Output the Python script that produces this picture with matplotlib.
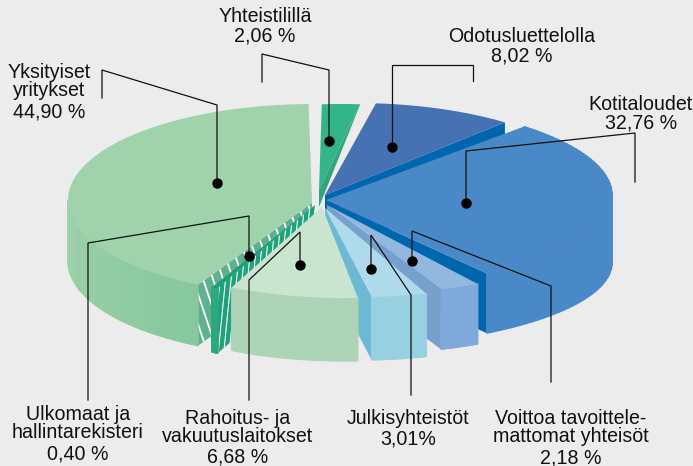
"""
Exploded 3D style pie of shareholder groups, drawn with polygons on a pixel sized axes.
"""
import numpy as np
import matplotlib
matplotlib.use("Agg")
import matplotlib.pyplot as plt
from matplotlib.colors import to_rgb
from matplotlib.patches import Polygon

plt.rcParams['font.family'] = ['Liberation Sans', 'DejaVu Sans']

names = ["Yhteistilillä", "Odotusluettelolla", "Kotitaloudet", "Voittoa tavoittelemattomat yhteisöt",
         "Julkisyhteistöt", "Rahoitus- ja vakuutuslaitokset", "Ulkomaat ja hallintarekisteri", "Yksityiset yritykset"]
values = [2.06, 8.02, 32.76, 2.18, 3.01, 6.68, 0.40, 44.90]
value_labels = ["2,06 %", "8,02 %", "32,76 %", "2,18 %", "3,01%", "6,68 %", "0,40 %", "44,90 %"]

BG = "#ececec"

# per slice layout: apex, ellipse centre, radii, start angle (clockwise from top), stretch, depth
# hatch is (step, sideways run over the wall, line width)
layout = {
    "Yhteistilillä": dict(apex=(319, 190), c=(341, 200), r=(250, 96), t0=-4.4, st=1.19, depth=0,
                          top="#34b588", wall="#33a57e", cut="end"),
    "Odotusluettelolla": dict(apex=(325, 195), c=(355, 200), r=(250, 97), t0=4.8, st=1.11, depth=60,
                              top="#4671b3", wall="#0066ad", cut="end"),
    "Kotitaloudet": dict(apex=(326, 200), c=(325, 195), r=(287, 95), t0=43.9, st=0.863, depth=68, r_bottom=85,
                         top="#4a89c7", wall="#0066ad", front=("#4a89c7", "#4a89c7"), cut="end"),
    "Yksityiset yritykset": dict(apex=(312, 203), c=(313, 200), r=(245, 96), t0=208, st=0.934, depth=61,
                                 top="#a0d2ab", wall="#5fb08f", front=("#86c89e", "#a0d2ab"), cut="start",
                                 hatch=(10, 60, 1.3)),
    "Ulkomaat ja hallintarekisteri": dict(apex=(315, 205), c=(315, 200), r=(245, 96), t0=203.4, st=1.0, depth=65,
                                          top="#1f9f78", wall="#1da27a", front=("#2ca77e", "#2ca77e"), cut="start",
                                          hatch=(5.5, -18, 0.8)),
}
layout.update({
    "Rahoitus- ja vakuutuslaitokset": dict(apex=(322, 207), c=(345, 205), r=(245, 93), t0=177, st=1.27, depth=63,
                                           top="#c9e5cf", wall="#add4b6", front=("#add4b6", "#add4b6"), cut=None),
    "Julkisyhteistöt": dict(apex=(325, 208), c=(360, 205), r=(245, 92), t0=164.3, st=1.2, depth=63,
                            top="#aedaec", wall="#6db9d3", front=("#97d1e1", "#97d1e1"), cut="end"),
    "Voittoa tavoittelemattomat yhteisöt": dict(apex=(327, 205), c=(370, 205), r=(245, 88), t0=153.9, st=1.18, depth=60,
                                                top="#92b8e0", wall="#77a0cd", front=("#7fa8db", "#7fa8db"), cut="end"),
})
draw_order = ["Yhteistilillä", "Odotusluettelolla", "Kotitaloudet", "Yksityiset yritykset",
              "Ulkomaat ja hallintarekisteri", "Voittoa tavoittelemattomat yhteisöt", "Julkisyhteistöt",
              "Rahoitus- ja vakuutuslaitokset"]

# leader lines, from label to dot
leaders = [
    [(262, 82), (262, 54), (329, 70), (329, 141)],
    [(473, 81), (473, 65), (392, 65), (392, 147)],
    [(635, 182), (635, 133), (466, 151), (466, 203)],
    [(551, 382), (551, 286), (412, 231), (412, 261)],
    [(411, 395), (411, 295), (371, 235), (371, 269)],
    [(249, 400), (249, 280), (300, 232), (300, 265)],
    [(88, 400), (88, 243), (249, 216), (249, 256)],
    [(102, 98), (102, 70), (217, 105), (217, 183)],
]

# label lines: text, x centre, y centre
texts = [
    ("Yhteistilillä", 265, 17), (value_labels[0], 265, 36),
    ("Odotusluettelolla", 522, 36), (value_labels[1], 522, 56),
    ("Kotitaloudet", 641, 105), (value_labels[2], 641, 123),
    ("Voittoa tavoittele-", 571, 418), ("mattomat yhteisöt", 571, 437), (value_labels[3], 571, 458),
    ("Julkisyhteistöt", 408, 419), (value_labels[4], 408, 439),
    ("Rahoitus- ja", 238, 418), ("vakuutuslaitokset", 238, 437), (value_labels[5], 238, 457),
    ("Ulkomaat ja", 78, 414), ("hallintarekisteri", 78, 433), (value_labels[6], 78, 454),
]
left_texts = [("Yksityiset", 8, 73), ("yritykset", 13, 91), (value_labels[7], 13, 112)]


def arc_points(s, t_a, t_b, n=60, bottom=False):
    t = np.radians(np.linspace(t_a, t_b, n))
    cy = s["c"][1] + (s["depth"] if bottom else 0)
    ry = s.get("r_bottom", s["r"][1]) if bottom else s["r"][1]
    return np.column_stack([s["c"][0] + s["r"][0] * np.sin(t), cy - ry * np.cos(t)])


def draw_slice(ax, name, value, z):
    s = layout[name]
    t_a = s["t0"]
    t_b = t_a + value * 3.6 * s["st"]
    arc = arc_points(s, t_a, t_b)
    arc_low = arc_points(s, t_a, t_b, bottom=True)
    apex = np.array(s["apex"], float)

    # cut side wall
    if s["cut"]:
        i = -1 if s["cut"] == "end" else 0
        if s["depth"] == 0:
            pts = [apex, arc[i], apex + [0, 17]]
        else:
            pts = [apex, arc[i], arc_low[i], apex + (arc_low[i] - arc[i])]
        wall = Polygon(pts, closed=True, fc=s["wall"], ec="none", zorder=z)
        ax.add_patch(wall)
        if s.get("hatch"):
            step, run, lw = s["hatch"]
            for x in np.arange(120, 420, step):
                line, = ax.plot([x, x + run], [180, 360], color="white", lw=lw, zorder=z)
                line.set_clip_path(wall)

    # outer wall, drawn in small strips so it can shade across
    if "front" in s:
        c0 = np.array(to_rgb(s["front"][0]))
        c1 = np.array(to_rgb(s["front"][1]))
        hi = min(t_b, 270.0) if t_b > 270 else t_b
        edge = arc_points(s, t_a, hi, 61)
        low = arc_points(s, t_a, hi, 61, bottom=True)
        for i in range(60):
            col = c0 + (c1 - c0) * i / 59
            pts = [edge[i], edge[i + 1], low[i + 1], low[i]]
            ax.add_patch(Polygon(pts, closed=True, fc=col, ec=col, lw=0.9, zorder=z))

    ax.add_patch(Polygon(np.vstack([apex, arc]), closed=True, fc=s["top"], ec="none", zorder=z + 0.5))


fig = plt.figure(figsize=(6.93, 4.66), dpi=100, facecolor=BG)
ax = fig.add_axes([0, 0, 1, 1])
ax.set_xlim(0, 693)
ax.set_ylim(466, 0)
ax.axis("off")

for z, name in enumerate(draw_order):
    draw_slice(ax, name, values[names.index(name)], z + 1)

for pts in leaders:
    xs, ys = zip(*pts)
    ax.plot(xs, ys, color="#111111", lw=0.9, solid_joinstyle="miter", zorder=20)
    ax.plot(xs[-1], ys[-1], "o", color="black", ms=7.5, mew=0, zorder=21)

for txt, x, y in texts:
    ax.text(x, y, txt, fontsize=14.1, ha="center", va="center", color="#111111", zorder=22)
for txt, x, y in left_texts:
    ax.text(x, y, txt, fontsize=14.1, ha="left", va="center", color="#111111", zorder=22)

fig.savefig("out.png", dpi=100, facecolor=BG)
plt.close(fig)
